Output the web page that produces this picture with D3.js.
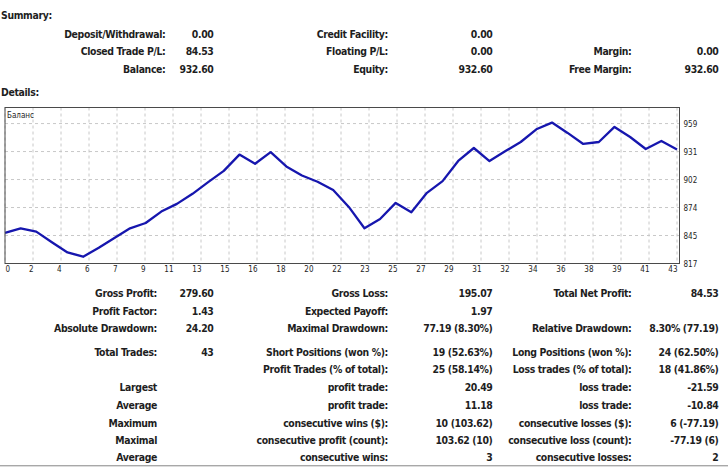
<!DOCTYPE html>
<html>
<head>
<meta charset="utf-8">
<script src="https://cdn.jsdelivr.net/npm/d3@7"></script>
<style>
  body { margin: 0; background: #fff; }
  text { font-family: "DejaVu Sans Condensed", "DejaVu Sans", sans-serif; fill: #1e1e1e; }
  .bold { font-weight: bold; font-size: 10.4px; letter-spacing: -0.35px; }
  .axis-text { font-size: 8px; }
</style>
</head>
<body>
<div id="wrapper"></div>
<script>
// balance after each closed trade (trade 0 = initial deposit)
const balance = [848.07, 852.7, 849.3, 838.5, 828.2, 823.87, 833.0, 842.8, 852.7, 858.1,
                 869.7, 877.5, 887.7, 899.5, 911.0, 927.49, 918.2, 930.0, 915.5, 906.3,
                 900.0, 891.5, 874.40, 852.81, 862.2, 878.5, 869.0, 888.7, 900.6, 921.09,
                 934.2, 921.0, 930.8, 940.3, 953.2, 960.0, 949.5, 938.3, 940.3, 955.6,
                 945.4, 933.2, 941.3, 932.60]
const xTickLabels = ["0","2","4","6","7","9","11","13","15","16","18","20","22","23","25",
                     "27","29","31","32","34","36","38","39","41","43"]
const yTickValues = [817, 845.4, 873.8, 902.2, 930.6, 959]
const seriesName = "Баланс"

const summaryLabels1 = ["Deposit/Withdrawal:", "Closed Trade P/L:", "Balance:"]
const summaryValues1 = ["0.00", "84.53", "932.60"]
const summaryLabels2 = ["Credit Facility:", "Floating P/L:", "Equity:"]
const summaryValues2 = ["0.00", "0.00", "932.60"]
const summaryLabels3 = ["", "Margin:", "Free Margin:"]
const summaryValues3 = ["", "0.00", "932.60"]

const detailLabels1 = ["Gross Profit:", "Profit Factor:", "Absolute Drawdown:", "Total Trades:", "",
                       "Largest", "Average", "Maximum", "Maximal", "Average"]
const detailValues1 = ["279.60", "1.43", "24.20", "43", "", "", "", "", "", ""]
const detailLabels2 = ["Gross Loss:", "Expected Payoff:", "Maximal Drawdown:", "Short Positions (won %):",
                       "Profit Trades (% of total):", "profit trade:", "profit trade:", "consecutive wins ($):",
                       "consecutive profit (count):", "consecutive wins:"]
const detailValues2 = ["195.07", "1.97", "77.19 (8.30%)", "19 (52.63%)", "25 (58.14%)", "20.49", "11.18",
                       "10 (103.62)", "103.62 (10)", "3"]
const detailLabels3 = ["Total Net Profit:", "", "Relative Drawdown:", "Long Positions (won %):",
                       "Loss trades (% of total):", "loss trade:", "loss trade:", "consecutive losses ($):",
                       "consecutive loss (count):", "consecutive losses:"]
const detailValues3 = ["84.53", "", "8.30% (77.19)", "24 (62.50%)", "18 (41.86%)", "-21.59", "-10.84",
                       "6 (-77.19)", "-77.19 (6)", "2"]

const width = 728, height = 471
const plot = { left: 5, right: 679.5, top: 107.5, bottom: 263.5 }

const svg = d3.select("#wrapper").append("svg")
    .attr("width", width)
    .attr("height", height)

svg.append("rect").attr("width", width).attr("height", height).attr("fill", "#fff")

// ---- summary block
svg.append("text").attr("class", "bold").attr("x", 1).attr("y", 19).text("Summary:")
svg.append("text").attr("class", "bold").attr("x", 1).attr("y", 96).text("Details:")

const summaryRowY = [33.5, 51, 68.5]
const summaryCols = [
    { data: summaryLabels1, right: 165.5 },
    { data: summaryValues1, right: 213.5 },
    { data: summaryLabels2, right: 388 },
    { data: summaryValues2, right: 492.5 },
    { data: summaryLabels3, right: 631.5 },
    { data: summaryValues3, right: 718.5 },
]
summaryCols.forEach(col => {
    svg.append("g").selectAll("text")
        .data(col.data)
        .join("text")
        .attr("class", "bold")
        .attr("x", col.right)
        .attr("y", (d, i) => summaryRowY[i] + 4)
        .attr("text-anchor", "end")
        .text(d => d)
})

// ---- balance chart
const xScale = d3.scaleLinear()
    .domain([0, balance.length - 1])
    .range([plot.left, 677])

const yScale = d3.scaleLinear()
    .domain([817, 975.3])
    .range([plot.bottom, plot.top])

const chart = svg.append("g")

const xGridIdx = xTickLabels.map((d, k) => k * (balance.length - 1) / (xTickLabels.length - 1))

chart.append("g").selectAll("line")
    .data(xGridIdx)
    .join("line")
    .attr("x1", d => xScale(d)).attr("x2", d => xScale(d))
    .attr("y1", plot.top).attr("y2", plot.bottom)
    .attr("stroke", "#c8c8c8")
    .attr("stroke-dasharray", "3,3")

chart.append("g").selectAll("line")
    .data(yTickValues)
    .join("line")
    .attr("x1", plot.left).attr("x2", plot.right)
    .attr("y1", d => yScale(d)).attr("y2", d => yScale(d))
    .attr("stroke", "#c8c8c8")
    .attr("stroke-dasharray", "3,3")

chart.append("text")
    .attr("class", "axis-text")
    .attr("x", 7).attr("y", 118)
    .text(seriesName)

const line = d3.line()
    .x((d, i) => xScale(i))
    .y(d => yScale(d))

chart.append("path")
    .datum(balance)
    .attr("d", line)
    .attr("fill", "none")
    .attr("stroke", "#1616ae")
    .attr("stroke-width", 2.3)
    .attr("stroke-linejoin", "round")

chart.append("rect")
    .attr("x", plot.left).attr("y", plot.top)
    .attr("width", plot.right - plot.left).attr("height", plot.bottom - plot.top)
    .attr("fill", "none")
    .attr("stroke", "#4a4a4a")

// y axis labels on the right
chart.append("g").selectAll("text")
    .data(yTickValues)
    .join("text")
    .attr("class", "axis-text")
    .attr("x", plot.right + 4)
    .attr("y", d => yScale(d) + 3)
    .text(d => d3.format(".0f")(d))

// x axis labels, right aligned on the grid lines
chart.append("g").selectAll("text")
    .data(xTickLabels)
    .join("text")
    .attr("class", "axis-text")
    .attr("x", (d, k) => k === 0 ? plot.left + 0.5 : xScale(xGridIdx[k]) + 0.5)
    .attr("y", 272)
    .attr("text-anchor", (d, k) => k === 0 ? "start" : "end")
    .text(d => d)

// ---- details block
const detailRowY = [293.3, 310.7, 327.7, 352.3, 369.3, 387.3, 405.3, 422.7, 440, 456.7]
const detailCols = [
    { data: detailLabels1, right: 157 },
    { data: detailValues1, right: 213.5 },
    { data: detailLabels2, right: 388 },
    { data: detailValues2, right: 492.5 },
    { data: detailLabels3, right: 631.5 },
    { data: detailValues3, right: 718.5 },
]
detailCols.forEach(col => {
    svg.append("g").selectAll("text")
        .data(col.data)
        .join("text")
        .attr("class", "bold")
        .attr("x", col.right)
        .attr("y", (d, i) => detailRowY[i] + 4)
        .attr("text-anchor", "end")
        .text(d => d)
})

// bottom edge of the report frame
svg.append("line").attr("x1", 0).attr("x2", width).attr("y1", 465.5).attr("y2", 465.5)
    .attr("stroke", "#a8a8a8")
svg.append("line").attr("x1", 0).attr("x2", width).attr("y1", 466.5).attr("y2", 466.5)
    .attr("stroke", "#dcdcdc")
</script>
</body>
</html>
